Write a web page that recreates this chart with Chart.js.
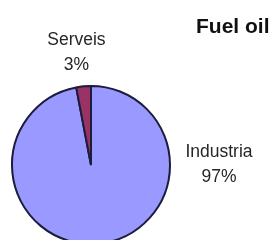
<!DOCTYPE html>
<html>
<head>
<meta charset="utf-8">
<script src="https://cdn.jsdelivr.net/npm/chart.js@4"></script>
<style>
  html, body { margin: 0; padding: 0; background: #fff; overflow: hidden; }
  #wrap { width: 276px; height: 240px; overflow: hidden; }
</style>
</head>
<body>
<div id="wrap"><canvas id="fuelChart" width="276" height="260"></canvas></div>
<script>
// Fuel oil consumption by sector (%)
const categories = ['Industria', 'Serveis'];
const shares = [97, 3];
const sliceColors = ['#9999ff', '#993366'];
const chartTitle = 'Fuel oil';

// label placement around the pie: angle clockwise from top (deg), distance in px from centre
const labelSpots = [
    { angle: 90, dist: 128 },
    { angle: -7.4, dist: 113 }
];

const pieLabels = {
    id: 'pieLabels',
    afterDatasetsDraw(chart) {
        const ctx = chart.ctx;
        const meta = chart.getDatasetMeta(0);
        ctx.save();
        ctx.fillStyle = '#262626';
        ctx.textAlign = 'center';
        ctx.textBaseline = 'middle';
        ctx.font = '17.5px "Liberation Sans", Arial, sans-serif';
        meta.data.forEach((arc, i) => {
            const spot = labelSpots[i];
            const a = spot.angle * Math.PI / 180;
            const x = arc.x + Math.sin(a) * spot.dist;
            const y = arc.y - Math.cos(a) * spot.dist;
            ctx.fillText(categories[i], x, y - 12.5);
            ctx.fillText(shares[i] + '%', x, y + 12.5);
        });
        // title
        ctx.font = 'bold 21px "Liberation Sans", Arial, sans-serif';
        ctx.fillStyle = '#111';
        ctx.textAlign = 'left';
        ctx.textBaseline = 'alphabetic';
        ctx.fillText(chartTitle, 196, 33);
        ctx.restore();
    }
};

new Chart(document.getElementById('fuelChart'), {
    type: 'pie',
    data: {
        labels: categories,
        datasets: [{
            data: shares,
            backgroundColor: sliceColors,
            borderColor: '#1c1c3c',
            borderWidth: 2
        }]
    },
    options: {
        responsive: false,
        animation: false,
        layout: { padding: { left: 11, top: 85, right: 105, bottom: 15 } },
        plugins: {
            legend: { display: false },
            tooltip: { enabled: false }
        }
    },
    plugins: [pieLabels]
});
</script>
</body>
</html>
